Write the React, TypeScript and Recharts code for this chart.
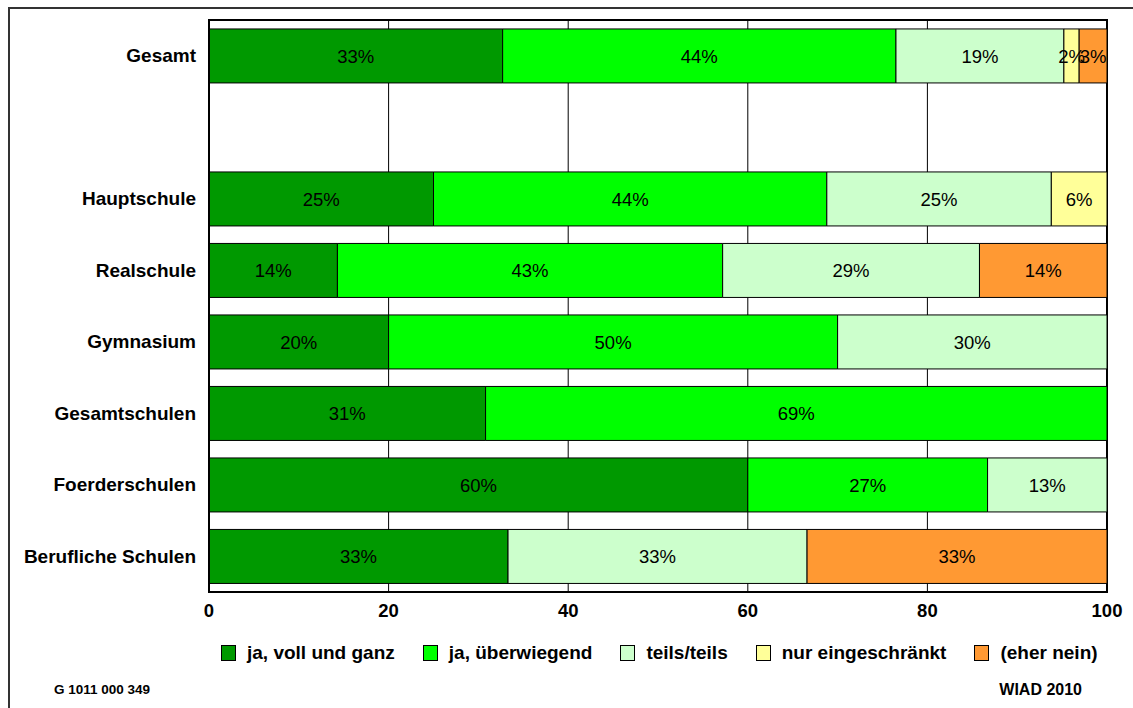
import React from 'react';
import { BarChart, Bar, XAxis, YAxis, CartesianGrid, LabelList, ReferenceArea, Legend } from 'recharts';

const categories = ['Gesamt', ' ', 'Hauptschule', 'Realschule', 'Gymnasium', 'Gesamtschulen', 'Foerderschulen', 'Berufliche Schulen'];
const jaVoll = [32.7, null, 25, 14.3, 20, 30.8, 60, 33.3];
const jaUeber = [43.8, null, 43.8, 42.9, 50, 69.2, 26.7, 0];
const teils = [18.7, null, 25, 28.6, 30, 0, 13.3, 33.3];
const nurEin = [1.7, null, 6.2, 0, 0, 0, 0, 0];
const eherNein = [3.1, null, 0, 14.2, 0, 0, 0, 33.4];

const seriesKeys = ['jaVoll', 'jaUeber', 'teils', 'nurEin', 'eherNein'];
const seriesNames = ['ja, voll und ganz', 'ja, überwiegend', 'teils/teils', 'nur eingeschränkt', '(eher nein)'];
const seriesColors = ['#009900', '#00FF00', '#CCFFCC', '#FFFF99', '#FF9933'];
const xTicks = [0, 20, 40, 60, 80, 100];

const FONT = '"Liberation Sans", Arial, Helvetica, sans-serif';

const data = categories.map((name, i) => ({
  name,
  jaVoll: jaVoll[i],
  jaUeber: jaUeber[i],
  teils: teils[i],
  nurEin: nurEin[i],
  eherNein: eherNein[i],
}));

const fmt = (v: any) => (typeof v === 'number' && v > 0 ? `${Math.round(v)}%` : '');

const renderLegend = () => (
  <div style={{ display: 'flex', alignItems: 'center', whiteSpace: 'nowrap', fontFamily: FONT, fontWeight: 'bold', fontSize: 19, lineHeight: '19px', color: '#000' }}>
    {seriesNames.map((n, i) => (
      <div key={n} style={{ display: 'flex', alignItems: 'center', marginRight: 28 }}>
        <div style={{ width: 13, height: 14, background: seriesColors[i], border: '1px solid #000', marginRight: 11 }} />
        <span>{n}</span>
      </div>
    ))}
  </div>
);

export default function App() {
  return (
    <div style={{ position: 'absolute', left: 0, top: 0, width: 1133, height: 708, overflow: 'hidden', background: '#fff' }}>
      <div style={{ position: 'absolute', left: 8, top: 7, width: 1300, height: 900, borderTop: '2px solid #333', borderLeft: '2px solid #333' }} />
      <div style={{ position: 'absolute', left: 0, top: 0 }}>
        <BarChart
          width={1133}
          height={708}
          data={data}
          layout="vertical"
          margin={{ top: 20, right: 26, left: 0, bottom: 86 }}
          barCategoryGap="12.5%"
        >
          <CartesianGrid horizontal={false} stroke="#000" strokeWidth={1} />
          <XAxis
            type="number"
            domain={[0, 100]}
            ticks={xTicks}
            height={30}
            tickSize={0}
            tickMargin={12}
            tickLine={false}
            axisLine={{ stroke: '#000', strokeWidth: 2 }}
            tick={{ fill: '#000', fontSize: 18.5, fontWeight: 'bold', fontFamily: FONT }}
          />
          <YAxis
            type="category"
            dataKey="name"
            width={209}
            tickSize={0}
            tickMargin={13}
            tickLine={false}
            interval={0}
            axisLine={{ stroke: '#000', strokeWidth: 2 }}
            tick={{ fill: '#000', fontSize: 19, fontWeight: 'bold', fontFamily: FONT }}
          />
          {seriesKeys.map((k, i) => (
            <Bar key={k} dataKey={k} name={seriesNames[i]} stackId="a" fill={seriesColors[i]} stroke="#000" strokeWidth={1} isAnimationActive={false}>
              <LabelList dataKey={k} position="center" formatter={fmt} fill="#000" fontSize={18.5} fontFamily={FONT} />
            </Bar>
          ))}
          <ReferenceArea x1={0} x2={100} fill="none" stroke="#000" strokeWidth={2} ifOverflow="visible" />
          <Legend
            layout="vertical"
            verticalAlign="middle"
            align="center"
            content={renderLegend}
            wrapperStyle={{ left: 221, top: 643, width: 'auto' }}
          />
        </BarChart>
      </div>
      <div style={{ position: 'absolute', left: 54, top: 683, fontFamily: FONT, fontWeight: 'bold', fontSize: 13.5, lineHeight: '13px', color: '#000' }}>
        G 1011 000 349
      </div>
      <div style={{ position: 'absolute', right: 51, top: 682, fontFamily: FONT, fontWeight: 'bold', fontSize: 16, lineHeight: '15px', color: '#000' }}>
        WIAD 2010
      </div>
    </div>
  );
}
